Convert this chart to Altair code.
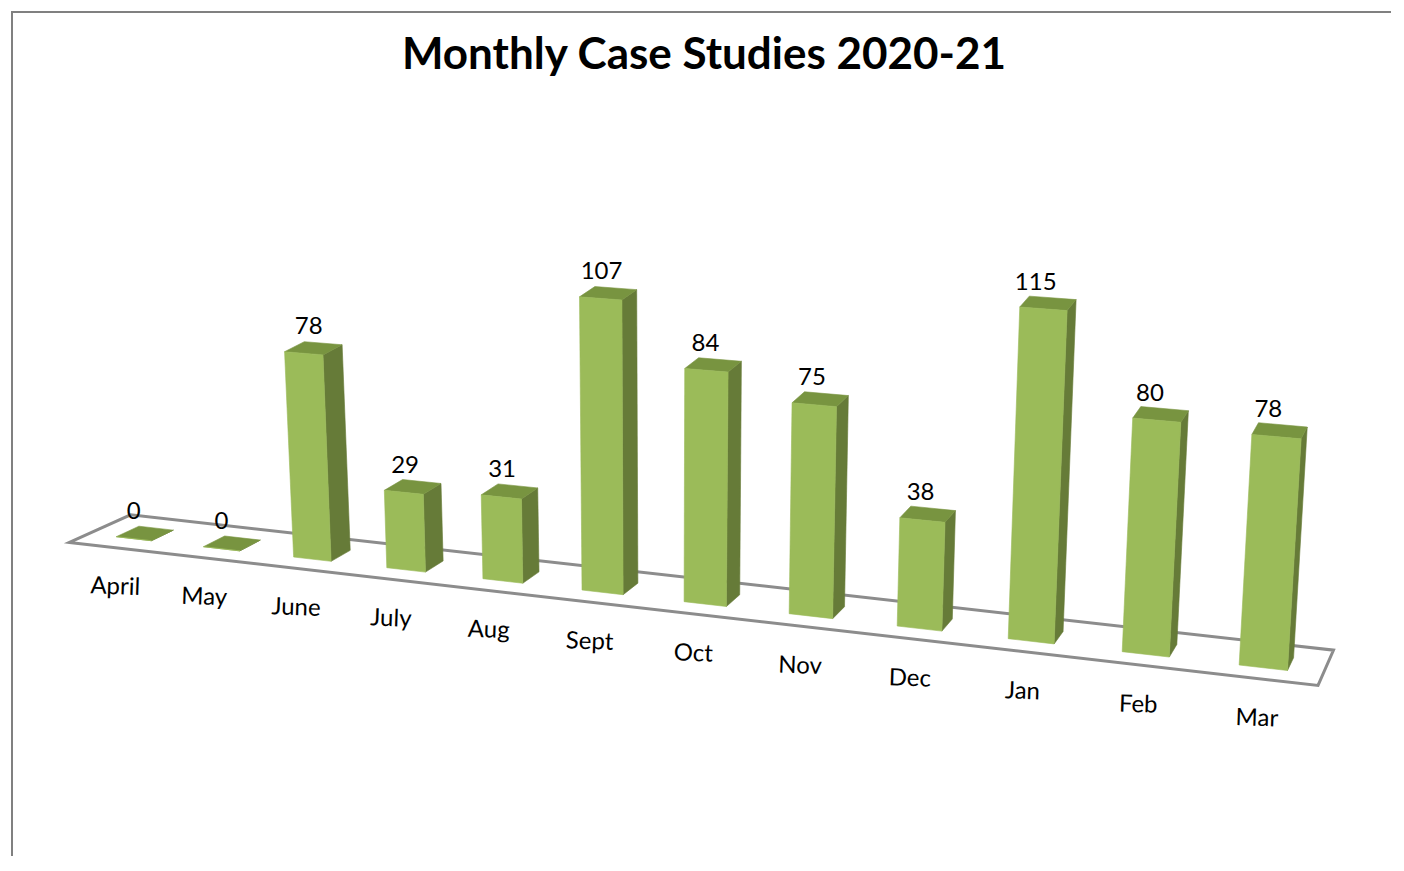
import altair as alt
import pandas as pd

months = ["April", "May", "June", "July", "Aug", "Sept", "Oct", "Nov", "Dec", "Jan", "Feb", "Mar"]
cases = [0, 0, 78, 29, 31, 107, 84, 75, 38, 115, 80, 78]
title_text = "Monthly Case Studies 2020-21"

FONT = "Lato"
FRONT, TOP, SIDE = "#9BBB59", "#789440", "#667B38"
BAR_SLOTS = 0.406
ORIGIN = 11
PAGE_W, PAGE_H = 1380, 845


# Perspective of the 3-D plot: slot along the category axis, depth into the floor, value up.
def project(slot, depth=0.0, value=0.0):
    x = 116.3 + 85.7 * slot + 1.489 * slot ** 2
    y = 536.7 + 9.83 * slot + 0.1667 * slot ** 2
    x += depth * (22.6 - 1.45 * slot) + value * (-0.1785 + 0.031 * slot)
    y += -depth * (10.5 + 0.2 * slot) * (1 - 0.001 * value) - value * (2.56 + 0.036 * slot)
    return x, y


def faces():
    rows = []
    for i, (m, v) in enumerate(zip(months, cases)):
        s0, s1 = i, i + BAR_SLOTS
        quads = {
            "front": [(s0, 0, v), (s1, 0, v), (s1, 0, 0), (s0, 0, 0)],
            "side": [(s1, 0, v), (s1, 1, v), (s1, 1, 0), (s1, 0, 0)],
            "top": [(s0, 0, v), (s1, 0, v), (s1, 1, v), (s0, 1, v)],
        }
        for face, pts in quads.items():
            for k, p in enumerate(pts):
                x, y = project(*p)
                rows.append({"poly": f"{m}-{face}", "face": face, "k": k, "x": x, "y": y})
    return pd.DataFrame(rows)


face_df = faces()

floor_df = pd.DataFrame(
    [dict(zip(("x", "y"), project(s, d))) | {"k": k}
     for k, (s, d) in enumerate([(-0.32, -0.85), (11.7, -0.85), (11.7, 1.9), (-0.32, 1.8)])]
)

value_rows, month_rows = [], []
for i, (m, v) in enumerate(zip(months, cases)):
    bx, by = project(i + BAR_SLOTS / 2)
    tx, ty = project(i, 0, v)
    value_rows.append({"x": bx + 0.4 * v * (-0.1785 + 0.031 * i), "y": ty - 24.5, "label": str(v)})
    px, py = project(i)
    month_rows.append({"x": px - 1 + 1.7 * i, "y": py + 50.5 + 0.3 * i, "label": m})
value_df = pd.DataFrame(value_rows)
month_df = pd.DataFrame(month_rows)

frame_df = pd.DataFrame({"x": [ORIGIN + 1, ORIGIN + 1, ORIGIN + PAGE_W], "y": [ORIGIN + PAGE_H, ORIGIN + 1, ORIGIN + 1], "k": [0, 1, 2]})
title_df = pd.DataFrame({"x": [704], "y": [56], "label": [title_text]})

X = alt.X("x:Q", axis=None, scale=alt.Scale(domain=[ORIGIN, ORIGIN + PAGE_W], range=[0, PAGE_W], nice=False, zero=False))
Y = alt.Y("y:Q", axis=None, scale=alt.Scale(domain=[ORIGIN, ORIGIN + PAGE_H], range=[0, PAGE_H], nice=False, zero=False))


def face_layer(name, colour):
    return (
        alt.Chart(face_df[face_df.face == name])
        .mark_line(interpolate="linear-closed", fill=colour, stroke=colour, strokeWidth=0.6, filled=True)
        .encode(x=X, y=Y, detail="poly:N", order="k:Q")
    )


frame = alt.Chart(frame_df).mark_line(color="#808080", strokeWidth=2).encode(x=X, y=Y, order="k:Q")
floor = (
    alt.Chart(floor_df)
    .mark_line(interpolate="linear-closed", color="#8C8C8C", strokeWidth=3)
    .encode(x=X, y=Y, order="k:Q")
)
values = (
    alt.Chart(value_df)
    .mark_text(font=FONT, fontSize=24, color="#000000", baseline="middle", align="center")
    .encode(x=X, y=Y, text="label:N")
)
labels = (
    alt.Chart(month_df)
    .mark_text(font=FONT, fontSize=24, color="#000000", baseline="middle", align="center", angle=2)
    .encode(x=X, y=Y, text="label:N")
)
title = (
    alt.Chart(title_df)
    .mark_text(font=FONT, fontSize=44, fontWeight="bold", color="#000000", baseline="middle", align="center")
    .encode(x=X, y=Y, text="label:N")
)

chart = (
    alt.layer(frame, floor, face_layer("side", SIDE), face_layer("top", TOP), face_layer("front", FRONT),
              values, labels, title)
    .properties(width=PAGE_W, height=PAGE_H, padding=0, background="#FFFFFF")
    .configure_view(stroke=None)
)

chart.save("out.html", embed_options={"renderer": "svg", "actions": False})
